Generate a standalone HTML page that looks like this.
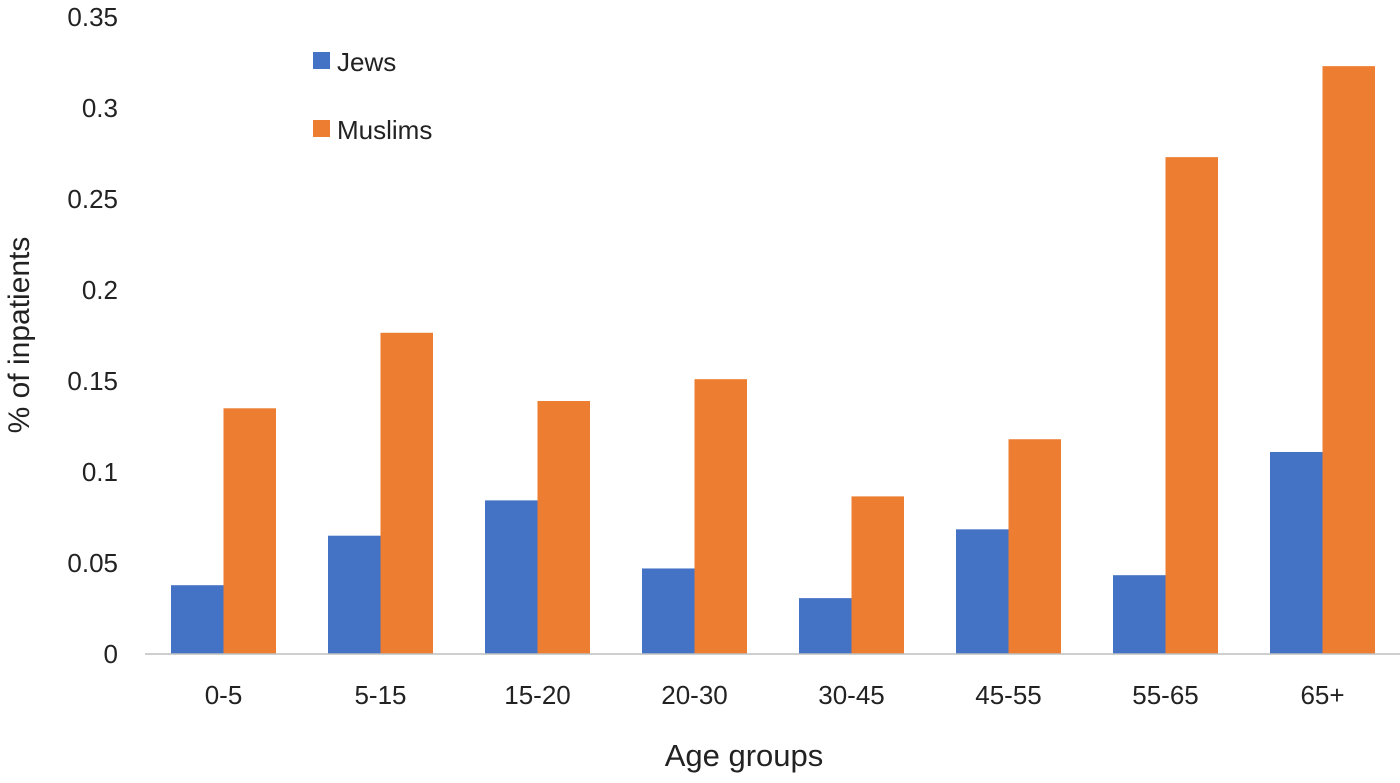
<!DOCTYPE html>
<html><head><meta charset="utf-8"><style>
html,body{margin:0;padding:0;background:#fff;}
svg text{font-family:"Liberation Sans",Calibri,sans-serif;fill:#222;}
</style></head><body>
<svg id="chart" width="1400" height="778" viewBox="0 0 1400 778" xmlns="http://www.w3.org/2000/svg">
<g id="yticks"></g>
<g id="bars"></g>
<line x1="145" y1="654" x2="1400" y2="654" stroke="#bfbfbf" stroke-width="1.5"/>
<g id="xticks"></g>
<text transform="translate(29,335) rotate(-90)" text-anchor="middle" font-size="30">% of inpatients</text>
<text x="744" y="766" text-anchor="middle" font-size="31">Age groups</text>
<g>
<g><rect x="313" y="52" width="17" height="17" fill="#4472C4"/><text x="337" y="71" font-size="26">Jews</text></g>
<g><rect x="313" y="120" width="17" height="17" fill="#ED7D31"/><text x="337" y="139" font-size="26">Muslims</text></g>
</g>
</svg>
<script>
const categories=["0-5","5-15","15-20","20-30","30-45","45-55","55-65","65+"];
const jews=[0.0378,0.065,0.0844,0.047,0.0307,0.0685,0.0433,0.111];
const muslims=[0.135,0.1765,0.139,0.151,0.0866,0.118,0.273,0.323];
const yTicks=[0,0.05,0.1,0.15,0.2,0.25,0.3,0.35];
const yTickLabels=["0","0.05","0.1","0.15","0.2","0.25","0.3","0.35"];
const NS="http://www.w3.org/2000/svg";
const y0=654,pxPerUnit=(654-17)/0.35,xStart=145,band=157,barW=52.5;
const yScale=v=>y0-v*pxPerUnit;
const xCenter=i=>xStart+band*(i+0.5);
const yt=document.getElementById('yticks');
yTicks.forEach((v,i)=>{
 const t=document.createElementNS(NS,'text');
 
 
 t.setAttribute('x',118);t.setAttribute('y',yScale(v)+9);
 t.setAttribute('text-anchor','end');t.setAttribute('font-size','26');
 t.textContent=yTickLabels[i];yt.appendChild(t);
});
const bars=document.getElementById('bars'),xt=document.getElementById('xticks');
categories.forEach((c,i)=>{
 const cx=xCenter(i);
 [[jews[i],cx-barW,'#4472C4','bar-jews'],[muslims[i],cx,'#ED7D31','bar-muslims']].forEach(([v,x,col,nm])=>{
  const r=document.createElementNS(NS,'rect');
  
  
  r.setAttribute('x',x);r.setAttribute('y',yScale(v));
  r.setAttribute('width',barW);r.setAttribute('height',y0-yScale(v));
  r.setAttribute('fill',col);bars.appendChild(r);
 });
 const t=document.createElementNS(NS,'text');
 
 
 t.setAttribute('x',cx);t.setAttribute('y',704);
 t.setAttribute('text-anchor','middle');t.setAttribute('font-size','26');
 t.textContent=c;xt.appendChild(t);
});
</script>
</body></html>
